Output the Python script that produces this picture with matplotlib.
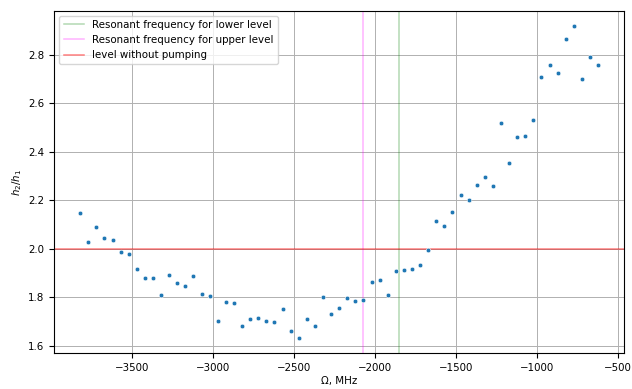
import matplotlib
matplotlib.use("Agg")
import matplotlib.pyplot as plt
import numpy as np

# частота отстройки, МГц (шаг 50)
omega = np.arange(-3820, -619, 50)

# отношение h2/h1
ratio = [2.146, 2.026, 2.090, 2.043, 2.038, 1.986, 1.978, 1.918, 1.879, 1.879,
         1.809, 1.892, 1.857, 1.848, 1.887, 1.814, 1.806, 1.702, 1.780, 1.775,
         1.680, 1.711, 1.716, 1.702, 1.697, 1.750, 1.659, 1.633, 1.711, 1.680,
         1.800, 1.732, 1.754, 1.797, 1.784, 1.788, 1.861, 1.870, 1.809, 1.909,
         1.914, 1.918, 1.934, 1.995, 2.116, 2.094, 2.150, 2.220, 2.202, 2.262,
         2.298, 2.258, 2.518, 2.354, 2.462, 2.466, 2.532, 2.708, 2.760, 2.725,
         2.864, 2.918, 2.700, 2.790, 2.760]

f_lower = -1848
f_upper = -2074
level_no_pump = 2.0

fig = plt.figure(figsize=(6.32, 3.89), dpi=100)
ax = fig.add_axes([54.3 / 632, 35.7 / 389, 569.7 / 632, 342.6 / 389])

ax.axvline(f_lower, color="green", alpha=0.3, lw=1.1, label="Resonant frequency for lower level")
ax.axvline(f_upper, color="magenta", alpha=0.3, lw=1.1, label="Resonant frequency for upper level")
ax.axhline(level_no_pump, color="red", alpha=0.5, lw=1.1, label="level without pumping")
ax.scatter(omega, ratio, s=11, color="#1f77b4", edgecolor="white", linewidth=0.4, zorder=3)

ax.grid(True, color="#b0b0b0", lw=0.7)
ax.set_axisbelow(True)
ax.tick_params(labelsize=7.4)
ax.set_xlabel("Ω, MHz", fontsize=7.4, labelpad=2)
ax.set_ylabel("$h_2/h_1$", fontsize=7.4, labelpad=3)
ax.legend(loc="upper left", fontsize=7.4)

fig.savefig("out.png", dpi=100)
